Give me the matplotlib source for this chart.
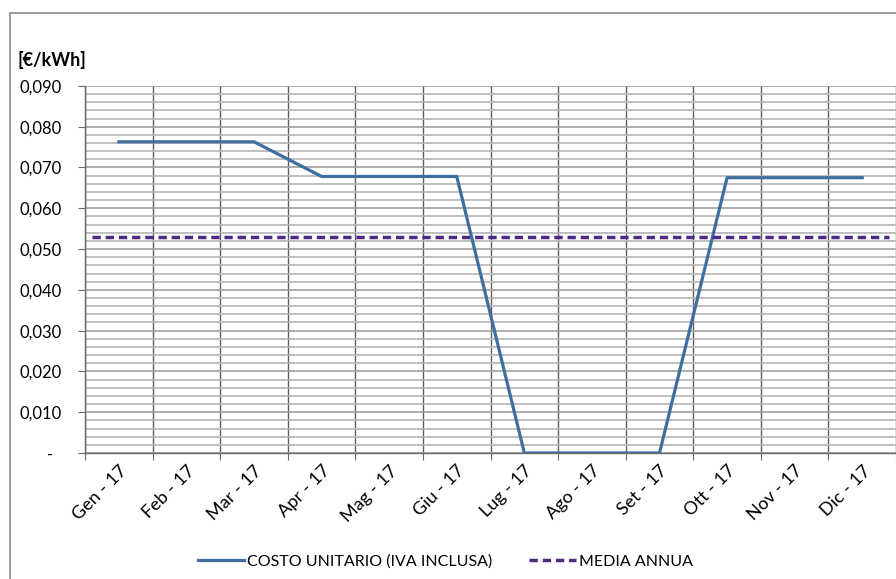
import numpy as np
import matplotlib.pyplot as plt
from matplotlib.patches import Rectangle
from matplotlib.ticker import MultipleLocator, FuncFormatter

plt.rcParams['font.family'] = ['Lato', 'DejaVu Sans']

mesi = ['Gen - 17', 'Feb - 17', 'Mar - 17', 'Apr - 17', 'Mag - 17', 'Giu - 17',
        'Lug - 17', 'Ago - 17', 'Set - 17', 'Ott - 17', 'Nov - 17', 'Dic - 17']
costo = [0.0763, 0.0763, 0.0763, 0.0678, 0.0678, 0.0678,
         0.0, 0.0, 0.0, 0.0675, 0.0675, 0.0675]
media = [0.0529] * 12

blu = '#3F6F9F'
viola = '#4E2A84'

fig = plt.figure(figsize=(8.96, 5.79), dpi=100)
ax = fig.add_axes([0.095, 0.2176, 0.905, 0.634])

x = np.arange(len(mesi)) + 0.5
ax.plot(x, costo, color=blu, lw=2.3, label='COSTO UNITARIO (IVA INCLUSA)', zorder=3)
ax.plot([0.1, 11.9], media[:2], color=viola, lw=2.5, ls=(0, (2.4, 1.4)), label='MEDIA ANNUA', zorder=3)

ax.set_xlim(0, 12)
ax.set_ylim(0, 0.090)

# griglia
ax.yaxis.set_major_locator(MultipleLocator(0.010))
ax.yaxis.set_minor_locator(MultipleLocator(0.002))
ax.grid(which='minor', axis='y', color='#b4b4b4', lw=1.2)
ax.grid(which='major', axis='y', color='#a0a0a0', lw=1.2)
ax.set_xticks(np.arange(0, 13))
ax.set_xticks(x, minor=True)
ax.grid(which='major', axis='x', color='#5e5e5e', lw=1.0)
ax.set_axisbelow(True)

ax.yaxis.set_major_formatter(FuncFormatter(lambda v, p: '-  ' if abs(v) < 1e-9 else ('%.3f' % v).replace('.', ',')))
ax.tick_params(axis='y', which='major', length=5, color='#6a6a6a', labelsize=12, pad=12)
ax.tick_params(axis='y', which='minor', length=0)
ax.tick_params(axis='x', which='major', length=5, color='#6a6a6a', labelbottom=False)
ax.tick_params(axis='x', which='minor', length=0, labelsize=13, pad=7)
ax.set_xticklabels(mesi, minor=True, rotation=45, ha='right', va='top', rotation_mode='anchor')

for s in ['top', 'right']:
    ax.spines[s].set_visible(False)
for s in ['left', 'bottom']:
    ax.spines[s].set_color('#6a6a6a')
    ax.spines[s].set_linewidth(1.0)

fig.text(0.02, 0.886, '[€/kWh]', fontsize=13, fontweight='bold')

fig.legend(loc='center', bbox_to_anchor=(0.497, 0.03), ncol=2, frameon=False,
           fontsize=11.5, handlelength=2.9, columnspacing=2.3, handletextpad=0.2)

fig.patches.append(Rectangle((0.011, -0.1), 1.2, 0.1 + 0.9775, transform=fig.transFigure,
                             fill=False, edgecolor='#8a8a8a', lw=1.2))

plt.savefig('out.png', dpi=100)
